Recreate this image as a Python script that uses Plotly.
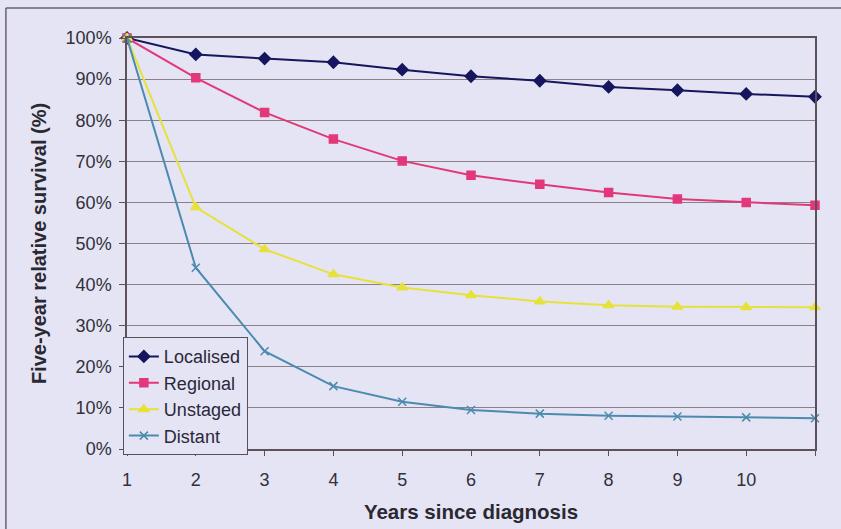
import plotly.graph_objects as go

# Years since diagnosis (1 .. 11)
years = [1, 2, 3, 4, 5, 6, 7, 8, 9, 10, 11]
x_tick_labels = ["1", "2", "3", "4", "5", "6", "7", "8", "9", "10", ""]

# Five-year relative survival (%) by stage
localised = [100, 96.0, 95.0, 94.1, 92.3, 90.7, 89.6, 88.1, 87.3, 86.4, 85.7]
regional = [100, 90.3, 81.9, 75.4, 70.1, 66.6, 64.4, 62.4, 60.8, 60.0, 59.3]
unstaged = [100, 58.8, 48.6, 42.5, 39.3, 37.4, 35.9, 35.0, 34.6, 34.5, 34.5]
distant = [100, 44.1, 23.8, 15.3, 11.5, 9.5, 8.6, 8.1, 7.9, 7.7, 7.5]

series = [
    ("Localised", localised, "#16165e", "diamond", 9),
    ("Regional", regional, "#e2387a", "square", 8),
    ("Unstaged", unstaged, "#e6e23a", "triangle-up", 9),
    ("Distant", distant, "#4c8aae", "x-thin", 8),
]

bg = "#e4e4f5"
grid = "#8c8088"
axis_col = "#5e5058"
font_family = "Liberation Sans, Arial, sans-serif"

fig = go.Figure()
for name, vals, color, symbol, size in series:
    fig.add_trace(go.Scatter(
        x=years, y=vals, name=name, mode="lines+markers",
        line=dict(color=color, width=2),
        marker=dict(symbol=symbol, size=size, color=color,
                    line=dict(color=color, width=1.5)),
        cliponaxis=False,
    ))

fig.update_layout(
    width=841, height=529,
    margin=dict(l=127, r=26, t=38, b=80),
    paper_bgcolor=bg, plot_bgcolor=bg,
    font=dict(family=font_family, size=18, color="#333038"),
    showlegend=True,
    legend=dict(
        x=-0.006, y=0.272, xanchor="left", yanchor="top",
        bgcolor=bg, bordercolor="#55505a", borderwidth=1,
        font=dict(size=18, color="#2a2838"),
        itemwidth=30,
    ),
    xaxis=dict(
        range=[1, 11], tickvals=years, ticktext=x_tick_labels,
        showgrid=False, zeroline=False, automargin=False,
        showline=True, linecolor=axis_col, linewidth=2, mirror=True,
        ticks="outside", ticklen=5, tickcolor=axis_col,
        ticklabelstandoff=8,
        title=dict(text="<b>Years since diagnosis</b>", font=dict(size=20.5, color="#2a2830"), standoff=16),
    ),
    yaxis=dict(
        range=[0, 100], dtick=10, ticksuffix="%",
        showgrid=True, gridcolor=grid, gridwidth=1, zeroline=False, automargin=False,
        showline=True, linecolor=axis_col, linewidth=1.5, mirror=True,
        ticks="outside", ticklen=6, tickcolor=axis_col,
        ticklabelstandoff=4,
        title=dict(text="<b>Five-year relative survival (%)</b>", font=dict(size=20, color="#2a2830"), standoff=14),
    ),
)

# Frame edges along the top and left of the chart area
fig.add_shape(type="line", xref="paper", yref="paper",
              x0=-0.176, x1=1.1, y0=1.073, y1=1.073,
              line=dict(color="#6a6070", width=1.5))
fig.add_shape(type="line", xref="paper", yref="paper",
              x0=-0.176, x1=-0.176, y0=-0.3, y1=1.073,
              line=dict(color="#6a6070", width=1.5))

fig.write_html("out.html")
